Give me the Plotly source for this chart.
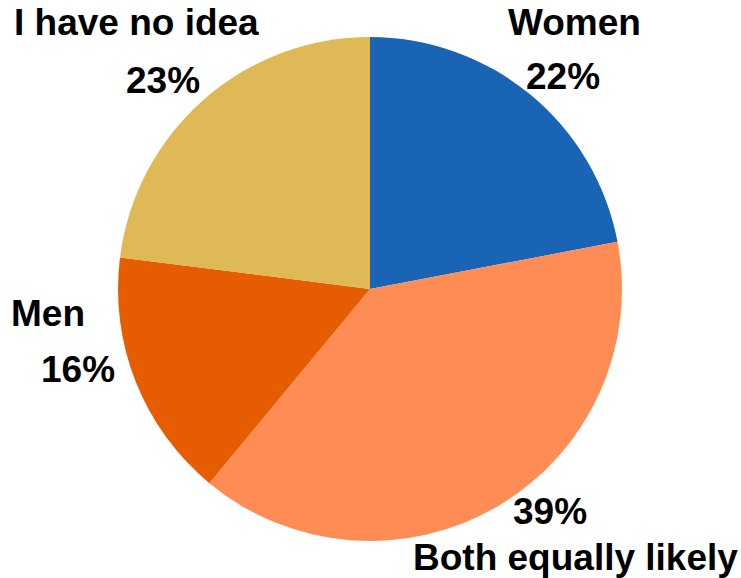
import plotly.graph_objects as go

categories = ["Women", "Both equally likely", "Men", "I have no idea"]
values = [22, 39, 16, 23]
colors = ["#1964B4", "#FF8C55", "#E65C00", "#DFB955"]

# label placement (pixel centres of the name and percent text)
name_pos = {"Women": (574, 22), "Both equally likely": (575, 557),
            "Men": (48, 313), "I have no idea": (136, 22)}
pct_pos = {"Women": (563, 77), "Both equally likely": (550, 511),
           "Men": (78, 369), "I have no idea": (163, 80)}

W, H = 741, 578
cx, cy, r = 370, 289, 252

fig = go.Figure(go.Pie(
    labels=categories,
    values=values,
    sort=False,
    direction="clockwise",
    rotation=0,
    marker=dict(colors=colors, line=dict(width=0)),
    textinfo="none",
    hoverinfo="none",
    showlegend=False,
    domain=dict(x=[(cx - r) / W, (cx + r) / W], y=[1 - (cy + r) / H, 1 - (cy - r) / H]),
))

font = dict(family="Liberation Sans, Arial, sans-serif", size=37, color="#000000")
total = sum(values)
annotations = []
for cat, v in zip(categories, values):
    nx, ny = name_pos[cat]
    px_, py_ = pct_pos[cat]
    annotations.append(dict(x=nx / W, y=1 - ny / H, xref="paper", yref="paper",
                            text="<b>%s</b>" % cat, showarrow=False, font=font,
                            xanchor="center", yanchor="middle"))
    annotations.append(dict(x=px_ / W, y=1 - py_ / H, xref="paper", yref="paper",
                            text="<b>%d%%</b>" % round(100 * v / total), showarrow=False, font=font,
                            xanchor="center", yanchor="middle"))

fig.update_layout(
    width=W, height=H,
    margin=dict(l=0, r=0, t=0, b=0),
    paper_bgcolor="white",
    plot_bgcolor="white",
    annotations=annotations,
)

fig.write_html("out.html", config={"displayModeBar": False},
               post_script="document.body.style.margin='0';document.body.style.overflow='hidden';")
